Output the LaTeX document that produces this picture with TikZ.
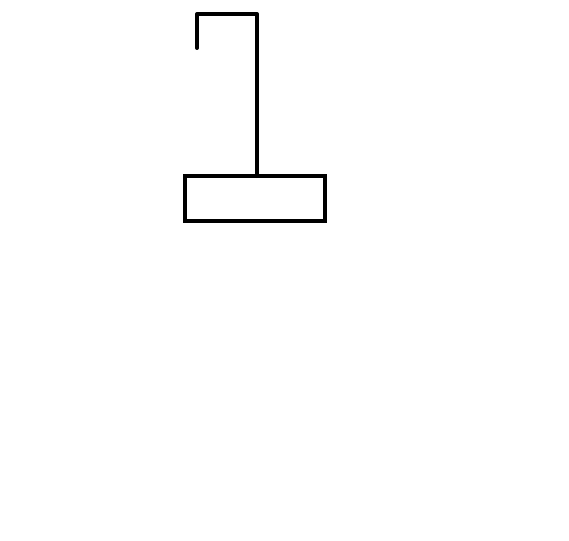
\documentclass[tikz,border=0pt]{standalone}
\begin{document}
\begin{tikzpicture}[x=1pt, y=-1pt]
  \useasboundingbox (0,0) rectangle (569,540);

  %–– Gancio ––
  \draw[black, line width=4pt, line join=round, line cap=round]
    (197,48) -- (197,14) -- (257,14) -- (257,176);

  %–– Blocco ––
  \draw[black, line width=4pt] (185,176) rectangle (325,221);
\end{tikzpicture}
\end{document}
